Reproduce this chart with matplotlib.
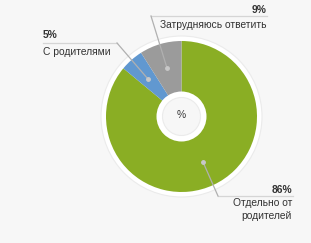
import matplotlib
matplotlib.use('Agg')
import matplotlib.pyplot as plt
from matplotlib.patches import Circle

# data
categories = ['Отдельно от\nродителей', 'С родителями', 'Затрудняюсь ответить']
values = [86, 5, 9]
colors = ['#8aae24', '#6198d0', '#9b9b9b']

W, H = 311, 243
bg = '#f7f7f7'
plt.rcParams['font.family'] = ['Liberation Sans', 'DejaVu Sans']
fs = 7.4

fig = plt.figure(figsize=(W / 100, H / 100), dpi=100, facecolor=bg)
ax = fig.add_axes([0, 0, 1, 1])
ax.set_facecolor(bg)

cx, cy = 181.5, H - 116.5
R = 75.5

# outer white ring
ax.add_patch(Circle((cx, cy), R + 5, facecolor='white', edgecolor='#ebebeb', lw=0.8, zorder=1))

wedges, _ = ax.pie(values, colors=colors, startangle=90, counterclock=False,
                   center=(cx, cy), radius=R, wedgeprops=dict(edgecolor='none'))
for w in wedges:
    w.set_zorder(2)

# inner hole
ax.add_patch(Circle((cx, cy), 25, facecolor='white', edgecolor='none', zorder=3))
ax.add_patch(Circle((cx, cy), 19, facecolor=bg, edgecolor='#ebebeb', lw=0.8, zorder=4))
ax.text(cx, cy + 1, '%', ha='center', va='center', fontsize=fs, color='#333333', zorder=5)

lc = '#b0b0b0'
tc = '#333333'

def label(pct, name, ha, xt, y_pct, y_line, x0, x1, knee, tip, y_name):
    ax.text(xt, H - y_pct, pct, ha=ha, va='center', fontsize=fs, fontweight='bold', color=tc)
    ax.text(xt, H - y_name, name, ha=ha, va='top', fontsize=fs, color=tc, linespacing=1.4)
    ax.plot([x0, x1], [H - y_line, H - y_line], color='#d5d5d5', lw=0.9, zorder=6)
    ax.plot([knee[0], tip[0]], [H - knee[1], H - tip[1]], color=lc, lw=0.9, zorder=6)
    ax.plot(tip[0], H - tip[1], 'o', ms=2.5, color='#c8c8c8', zorder=7)

label('86%', categories[0], 'right', 292, 190, 196, 218, 293, (218, 196), (203, 162), 198)
label('5%', categories[1], 'left', 43, 35, 43, 43, 117, (117, 43), (148, 79), 47)
label('9%', categories[2], 'right', 266, 10, 16, 151, 267, (151, 16), (167, 68), 20)

ax.set_xlim(0, W)
ax.set_ylim(0, H)
ax.set_aspect('auto')
ax.axis('off')

fig.savefig('out.png', dpi=100, facecolor=bg)
